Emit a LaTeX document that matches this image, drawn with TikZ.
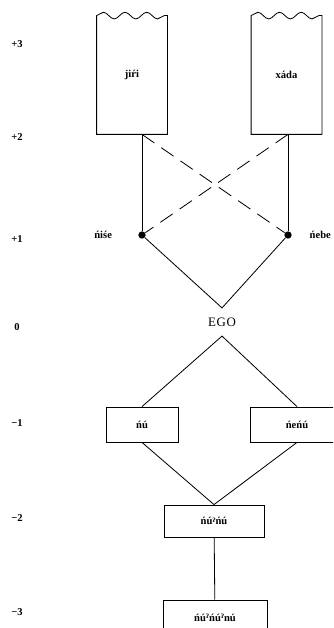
\documentclass[tikz,border=0pt]{standalone}
\usepackage{fontspec}
\setmainfont{Liberation Serif}
\newfontfamily\ipafont{DejaVu Serif}
\usepackage{tikz}
\usetikzlibrary{positioning,calc,decorations.pathmorphing}
\newcommand{\gstop}{\raisebox{0.45ex}{\ipafont\tiny ʔ}}

\begin{document}
\begin{tikzpicture}[x=0.3mm, y=-0.3mm, line width=0.7pt, font=\fontsize{9}{11}\selectfont\bfseries,
    term/.style={draw, minimum height=10.5mm, inner sep=2pt},
    torn/.style={minimum width=21mm, minimum height=35.4mm, inner sep=0pt},
    dot/.style={circle, fill, inner sep=0pt, minimum size=2.2mm},
    gap/.style={dash pattern=on 4.5mm off 2.5mm}]
  \useasboundingbox (0,0) rectangle (333,628);
  \clip (0,0) rectangle (333,628);
  % generation scale
  \foreach \g/\y in {+3/44, +2/137, +1/239, 0/327, −1/423, −2/518, −3/612}
    \node (lv\y) at (17,\y) {\g};
  % ascending kin
  \node[torn] (jiri) at (132,75) {\raisebox{-2mm}{jiŕi}};
  \node[torn] (xada) at (286.5,75) {\raisebox{-2mm}{xáda}};
  \foreach \b in {jiri,xada}
    \draw (\b.north west) decorate[decoration={snake, amplitude=1mm, segment length=6.5mm}] {-- (\b.north east)}
      -- (\b.south east) -- (\b.south west) -- cycle;
  \node[dot] (nise) at (142,235) {};
  \node[dot] (nebe) at (288,235) {};
  \node[left=6.5mm of nise] (nise-t) {ńiśe};
  \node[right=4mm of nebe] (nebe-t) {ńebe};
  \draw (nise) -- (nise |- jiri.south);
  \draw (nebe) -- (nebe |- xada.south);
  \draw[gap] (nise |- jiri.south) -- (nebe);
  \draw[gap] (nebe |- xada.south) -- (nise);
  % ego
  \node[font=\fontsize{11}{13}\selectfont, inner ysep=2.8mm] (ego) at (222,322) {E\kern0.6pt G\kern0.6pt O};
  \draw (nise) -- (ego.north) -- (nebe);
  % descending kin
  \node[term, minimum width=21.6mm] (nu) at (142,424.5) {ńú};
  \node[term, minimum width=28.2mm] (nenu) at (297,424.5) {ńeńú};
  \node[term, minimum width=30mm, minimum height=9.6mm] (nunu) at (214,521) {ńú\gstop ńú};
  \node[term, minimum width=31.2mm] (nununu) at (215,617.5) {ńú\gstop ńú\gstop nú};
  \draw (nu.north) -- (ego.south) -- (nenu.north);
  \draw (nu.south) -- (nunu.north) -- (nenu.south);
  \draw (nunu) -- (nununu);
\end{tikzpicture}
\end{document}
